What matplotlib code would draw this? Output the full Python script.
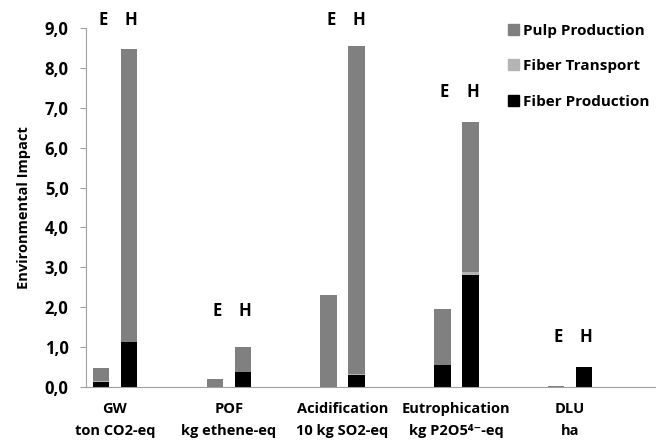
import numpy as np
import matplotlib
matplotlib.use("Agg")
import matplotlib.pyplot as plt
from matplotlib.patches import Patch

plt.rcParams['font.family'] = ['Open Sans', 'DejaVu Sans']
plt.rcParams['font.weight'] = 'bold'

# data
categories = ['GW\nton CO2-eq', 'POF\nkg ethene-eq', 'Acidification\n10 kg SO2-eq',
              'Eutrophication\nkg P2O5\u2074\u207b-eq', 'DLU\nha']
fiber_prod_E = [0.12, 0.00, 0.00, 0.55, 0.00]
fiber_trans_E = [0.02, 0.00, 0.00, 0.00, 0.00]
pulp_prod_E = [0.34, 0.19, 2.31, 1.40, 0.03]
fiber_prod_H = [1.12, 0.37, 0.29, 2.82, 0.50]
fiber_trans_H = [0.02, 0.00, 0.03, 0.07, 0.00]
pulp_prod_H = [7.33, 0.63, 8.24, 3.76, 0.00]
label_y = [9.2, 1.9, 9.2, 7.4, 1.25]

c_pulp = '#808080'
c_trans = '#b4b4b4'
c_fiber = '#000000'

fig = plt.figure(figsize=(6.64, 4.42), dpi=100)
ax = fig.add_axes([0.1295, 0.1244, 0.857, 0.8123])

x = np.arange(len(categories))
w = 0.145
off = 0.123

for pos, fp, ft, pp in [(x - off, fiber_prod_E, fiber_trans_E, pulp_prod_E),
                        (x + off, fiber_prod_H, fiber_trans_H, pulp_prod_H)]:
    fp = np.array(fp); ft = np.array(ft); pp = np.array(pp)
    ax.bar(pos, fp, w, color=c_fiber)
    ax.bar(pos, ft, w, bottom=fp, color=c_trans)
    ax.bar(pos, pp, w, bottom=fp + ft, color=c_pulp)

for i in range(len(categories)):
    ax.text(x[i] - off + 0.02, label_y[i], 'E', ha='center', va='center',
            fontsize=12, clip_on=False)
    ax.text(x[i] + off + 0.02, label_y[i], 'H', ha='center', va='center',
            fontsize=12, clip_on=False)

ax.set_xlim(-0.255, 4.747)
ax.set_ylim(0, 9)
ax.set_yticks(np.arange(0, 9.1, 1.0))
ax.set_yticklabels([f'{v:.1f}'.replace('.', ',') for v in np.arange(0, 9.1, 1.0)],
                   fontsize=12)
ax.set_xticks(x)
ax.set_xticklabels(categories, fontsize=10.5, linespacing=1.7)
ax.tick_params(axis='x', length=0, pad=11)
ax.tick_params(axis='y', length=4.5, color='#a0a0a0', pad=8)

for s in ['top', 'right']:
    ax.spines[s].set_visible(False)
for s in ['left', 'bottom']:
    ax.spines[s].set_color('#a0a0a0')

ax.set_ylabel('Environmental Impact', fontsize=10.5, fontweight='bold', labelpad=10)

handles = [Patch(color=c_pulp, label='Pulp Production'),
           Patch(color=c_trans, label='Fiber Transport'),
           Patch(color=c_fiber, label='Fiber Production')]
ax.legend(handles=handles, loc='upper right', bbox_to_anchor=(1.015, 1.05),
          frameon=False, fontsize=11, handlelength=0.7, handleheight=0.7,
          handletextpad=0.3, labelspacing=1.4)

fig.savefig('out.png', dpi=100)
